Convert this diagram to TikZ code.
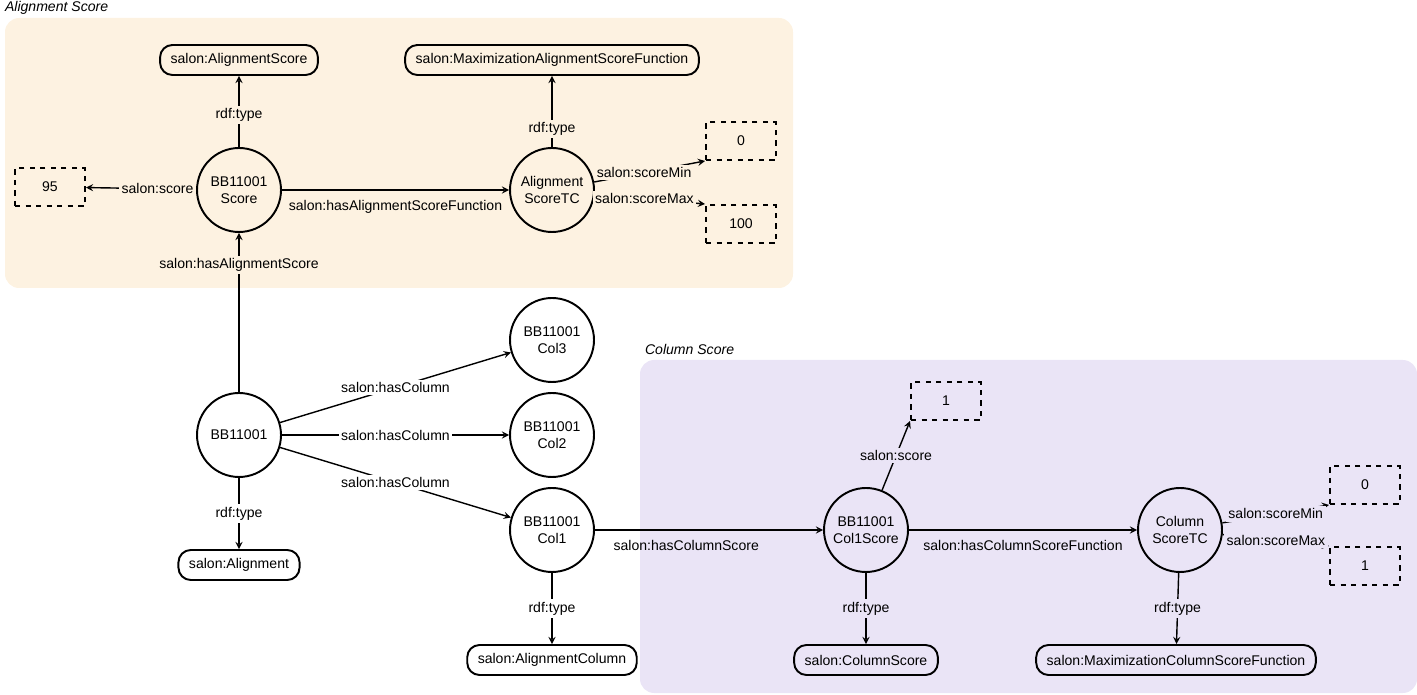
\documentclass[tikz,border=0pt]{standalone}
\usepackage{fontspec}
\setmainfont{Liberation Sans}
\usetikzlibrary{arrows, positioning}
\definecolor{alignbg}{HTML}{FDF2E1}
\definecolor{colbg}{HTML}{EAE4F6}
\tikzset{
	res/.style={circle, draw, line width=1.1pt, minimum size=1.68cm, align=center, inner sep=0pt},
	cls/.style={rectangle, rounded corners=7pt, draw, line width=1.1pt, minimum height=0.6cm, inner xsep=6pt},
	lit/.style={rectangle, draw, dashed, line width=1.1pt, minimum width=1.4cm, minimum height=0.76cm},
	lbl/.style={fill=#1, inner sep=1.5pt},
	lbl/.default=white,
	edge/.style={->, >=stealth, line width=0.8pt}
}
\begin{document}
\begin{tikzpicture}[x=0.02cm, y=-0.02cm]
	\fontsize{8}{9.6}\selectfont
	\useasboundingbox (0,0) rectangle (1417,695);
	% regions
	\fill[alignbg, rounded corners=8pt] (5,18) rectangle (793,288);
	\fill[colbg, rounded corners=8pt] (640,360) rectangle (1417,693);
	\node[anchor=west] at (0,8) {\itshape Alignment Score};
	\node[anchor=west] at (640,349) {\itshape Column Score};

	% alignment score part
	\node[res] (score) at (239,190) {BB11001\\Score};
	\node[res] (atc) at (552,190) {Alignment\\ScoreTC};
	\node[cls] (ascls) at (239,60) {salon:AlignmentScore};
	\node[cls] (maxafn) at (552,60) {salon:MaximizationAlignmentScoreFunction};
	\node[lit] (v95) at (50,187) {95};
	\node[lit] (amin) at (741,141) {0};
	\node[lit] (amax) at (741,224) {100};

	% alignment and columns
	\node[res] (aln) at (239,435) {BB11001};
	\node[res] (col3) at (552,340) {BB11001\\Col3};
	\node[res] (col2) at (552,435) {BB11001\\Col2};
	\node[res] (col1) at (552,530) {BB11001\\Col1};
	\node[cls] (alncls) at (239,565) {salon:Alignment};
	\node[cls] (colcls) at (552,660) {salon:AlignmentColumn};

	% column score part
	\node[res] (cscore) at (866,530) {BB11001\\Col1Score};
	\node[res] (ctc) at (1180,530) {Column\\ScoreTC};
	\node[lit] (v1) at (946,401) {1};
	\node[lit] (cmin) at (1365,485) {0};
	\node[lit] (cmax) at (1365,566) {1};
	\node[cls] (cscls) at (866,660) {salon:ColumnScore};
	\node[cls] (maxcfn) at (1176,660) {salon:MaximizationColumnScoreFunction};

	\draw[edge] (score) -- node[lbl=alignbg, pos=.45] {rdf:type} (ascls);
	\draw[edge] (score) -- node[lbl=alignbg, pos=.35] {salon:score} (v95);
	\draw[edge] (score) -- node[below=3pt] {salon:hasAlignmentScoreFunction} (atc);
	\draw[edge] (atc) -- node[lbl=alignbg, pos=.25] {rdf:type} (maxafn);
	\draw[edge] (atc) -- node[lbl=alignbg, pos=.45] {salon:scoreMin} (amin.south west);
	\draw[edge] (atc) -- node[lbl=alignbg, pos=.45] {salon:scoreMax} (amax.north west);

	\draw[edge] (aln) -- node[lbl=alignbg, pos=.8] {salon:hasAlignmentScore} (score);
	\draw[edge] (aln) -- node[lbl, pos=.5] {salon:hasColumn} (col3);
	\draw[edge] (aln) -- node[lbl, pos=.5] {salon:hasColumn} (col2);
	\draw[edge] (aln) -- node[lbl, pos=.5] {salon:hasColumn} (col1);
	\draw[edge] (aln) -- node[lbl, pos=.5] {rdf:type} (alncls);
	\draw[edge] (col1) -- node[lbl, pos=.5] {rdf:type} (colcls);
	\draw[edge] (col1) -- node[below=3pt, pos=.4] {salon:hasColumnScore} (cscore);

	\draw[edge] (cscore) -- node[lbl=colbg, pos=.5] {salon:score} (v1.south west);
	\draw[edge] (cscore) -- node[lbl=colbg, pos=.5] {rdf:type} (cscls);
	\draw[edge] (cscore) -- node[below=3pt] {salon:hasColumnScoreFunction} (ctc);
	\draw[edge] (ctc) -- node[lbl=colbg, pos=.5] {rdf:type} (maxcfn);
	\draw[edge] (ctc) -- node[lbl=colbg, pos=.5] {salon:scoreMin} (cmin.south west);
	\draw[edge] (ctc) -- node[lbl=colbg, pos=.5] {salon:scoreMax} (cmax.north west);
\end{tikzpicture}
\end{document}
